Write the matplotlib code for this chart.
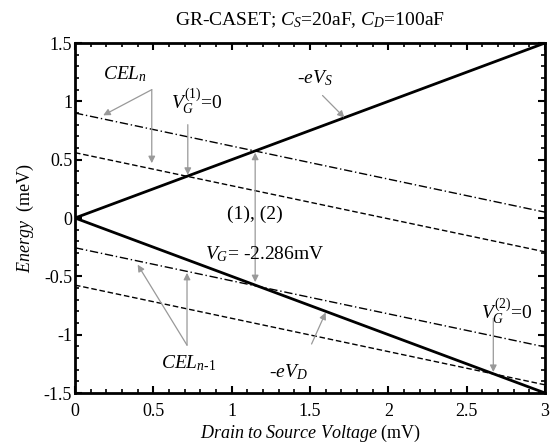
import matplotlib
matplotlib.use("Agg")
import matplotlib.pyplot as plt
from matplotlib.ticker import MultipleLocator, FuncFormatter

plt.rcParams['font.family'] = ['Liberation Serif', 'DejaVu Serif']
plt.rcParams['mathtext.fontset'] = 'custom'
plt.rcParams['mathtext.rm'] = 'Liberation Serif'
plt.rcParams['mathtext.it'] = 'Liberation Serif:italic'
plt.rcParams['mathtext.bf'] = 'Liberation Serif:bold'
plt.rcParams['axes.unicode_minus'] = False

# ---- data ----
vds = [0, 3]                       # drain-to-source voltage (mV)
ev_s = [0, 1.5]                    # -eV_S (meV)
ev_d = [0, -1.5]                   # -eV_D (meV)
cel_n_dashdot = [0.9, 0.05]        # CEL_n, V_G = -2.286 mV
cel_n_dashed = [0.56, -0.29]       # CEL_n, V_G = 0
cel_n1_dashdot = [-0.255, -1.105]  # CEL_{n-1}, V_G = -2.286 mV
cel_n1_dashed = [-0.575, -1.43]    # CEL_{n-1}, V_G = 0
xticks = [0, 0.5, 1, 1.5, 2, 2.5, 3]
yticks = [-1.5, -1, -0.5, 0, 0.5, 1, 1.5]

fig = plt.figure(figsize=(5.6, 4.48), dpi=100)
ax = fig.add_axes([75/560, 1-393/448, 470/560, 350/448])

ax.plot(vds, ev_s, color='black', lw=2)
ax.plot(vds, ev_d, color='black', lw=2)
ax.plot(vds, cel_n_dashdot, color='black', lw=1, ls=(0, (6, 2, 1, 2)))
ax.plot(vds, cel_n_dashed, color='black', lw=1, ls=(0, (4, 2)))
ax.plot(vds, cel_n1_dashdot, color='black', lw=1, ls=(0, (6, 2, 1, 2)))
ax.plot(vds, cel_n1_dashed, color='black', lw=1, ls=(0, (4, 2)))

ax.set_xlim(0, 3)
ax.set_ylim(-1.5, 1.5)
ax.set_xticks(xticks)
ax.set_yticks(yticks)
ax.xaxis.set_minor_locator(MultipleLocator(0.1))
ax.yaxis.set_minor_locator(MultipleLocator(0.1))
fmt = FuncFormatter(lambda v, p: '%g' % v)
ax.xaxis.set_major_formatter(fmt)
ax.yaxis.set_major_formatter(fmt)
ax.tick_params(which='both', direction='in', top=True, right=True, labelsize=13)
ax.tick_params(which='major', length=5, width=1.5)
ax.tick_params(which='minor', length=3, width=1.2)
ax.tick_params(axis='x', pad=7)
ax.tick_params(axis='y', pad=2)
for s in ax.spines.values():
    s.set_linewidth(2)

ax.set_title('GR-CASET; $C_S$=20aF, $C_D$=100aF', fontsize=14, pad=13)
ax.set_xlabel('$Drain\\ to\\ Source\\ Voltage$ (mV)', fontsize=13, labelpad=2)
ax.set_ylabel('$Energy$  (meV)', fontsize=13, labelpad=6)

gray = '#999999'
fs = 14
ap = dict(arrowstyle='-|>', color=gray, lw=0.9, mutation_scale=10, shrinkA=0, shrinkB=0)

# CEL_n
ax.text(0.32, 1.23, '$CEL_n$', fontsize=fs, ha='center', va='center')
ax.annotate('', xy=(0.18, 0.88), xytext=(0.49, 1.10), arrowprops=ap)
ax.annotate('', xy=(0.49, 0.47), xytext=(0.49, 1.10), arrowprops=ap)

# V_G^(1)=0
ax.text(0.61, 1.0, '$V_G^{(1)}$=0', fontsize=fs, ha='left', va='center')
ax.annotate('', xy=(0.72, 0.37), xytext=(0.72, 0.80), arrowprops=ap)

# -eV_S
ax.text(1.53, 1.2, '-$eV_S$', fontsize=fs, ha='center', va='center', style='italic')
ax.annotate('', xy=(1.72, 0.86), xytext=(1.58, 1.05), arrowprops=ap)

# (1), (2)
ax.annotate('', xy=(1.15, 0.56), xytext=(1.15, -0.55),
            arrowprops=dict(arrowstyle='<|-|>', color=gray, lw=0.9, mutation_scale=10,
                            shrinkA=0, shrinkB=0))
ax.text(1.15, 0.03, '(1), (2)', fontsize=fs, ha='center', va='center')

# V_G = -2.286mV
ax.text(0.83, -0.31, '$V_G$= -2.286mV', fontsize=fs, ha='left', va='center')

# CEL_{n-1}
ax.text(0.55, -1.24, '$CEL_{n\\text{-}1}$', fontsize=fs, ha='left', va='center')
ax.annotate('', xy=(0.40, -0.40), xytext=(0.715, -1.09), arrowprops=ap)
ax.annotate('', xy=(0.715, -0.47), xytext=(0.715, -1.09), arrowprops=ap)

# -eV_D
ax.text(1.24, -1.32, '-$eV_D$', fontsize=fs, ha='left', va='center', style='italic')
ax.annotate('', xy=(1.60, -0.81), xytext=(1.51, -1.08), arrowprops=ap)

# V_G^(2)=0
ax.text(2.59, -0.80, '$V_G^{(2)}$=0', fontsize=fs, ha='left', va='center')
ax.annotate('', xy=(2.67, -1.32), xytext=(2.67, -0.86), arrowprops=ap)

fig.savefig('out.png', dpi=100)
